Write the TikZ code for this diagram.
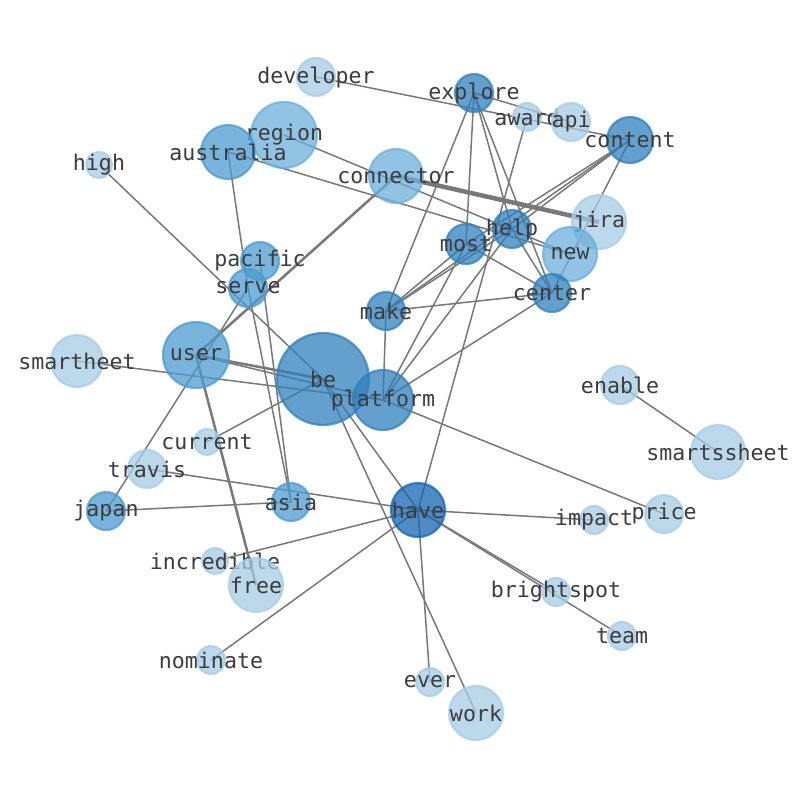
\documentclass[tikz,border=0pt]{standalone}
\usepackage{fontspec}
\setmonofont{DejaVu Sans Mono}
\definecolor{cL}{RGB}{166,204,230}
\definecolor{cA}{RGB}{108,175,219}
\definecolor{cB}{RGB}{75,155,208}
\definecolor{cC}{RGB}{48,128,188}
\definecolor{cD}{RGB}{20,100,178}
\definecolor{edgec}{RGB}{120,120,120}
\definecolor{txt}{RGB}{60,60,60}
\newcommand\vtx[6]{%
  \node[vnode,fill=#5,draw=#5,minimum size=#4*2pt] (#1-c) at (#1) {};
  \node[lbl] (#1-t) at (#1) {#6};
}
\begin{document}
\begin{tikzpicture}[x=1pt,y=-1pt,
  vnode/.style={circle,inner sep=0pt,outer sep=0pt,line width=2.2pt,fill opacity=0.75,draw opacity=0.75},
  lbl/.style={text=txt,font=\ttfamily\fontsize{21.6}{24}\selectfont,inner sep=0pt,anchor=center},
  edge/.style={draw=edgec,line width=1.5pt},
  thick2/.style={draw=edgec,line width=2.5pt},
  thick3/.style={draw=edgec,line width=4.5pt}]
\useasboundingbox (0,0) rectangle (794,790);
% positions
\coordinate (developer) at (316,77);
\coordinate (explore) at (474,93);
\coordinate (award) at (527,117);
\coordinate (api) at (571,122);
\coordinate (content) at (630,140);
\coordinate (region) at (284,135);
\coordinate (australia) at (228,152);
\coordinate (high) at (99,165);
\coordinate (connector) at (396,176);
\coordinate (jira) at (599,222);
\coordinate (help) at (512,229);
\coordinate (most) at (466,244);
\coordinate (new) at (570,254);
\coordinate (pacific) at (260,261);
\coordinate (serve) at (248,288);
\coordinate (center) at (552,293);
\coordinate (make) at (386,311);
\coordinate (smartheet) at (77,361);
\coordinate (user) at (196,355);
\coordinate (be) at (323,379);
\coordinate (platform) at (383,400);
\coordinate (enable) at (620,385);
\coordinate (current) at (207,442);
\coordinate (smartssheet) at (718,452);
\coordinate (travis) at (147,469);
\coordinate (japan) at (106,511);
\coordinate (asia) at (291,502);
\coordinate (have) at (418,510);
\coordinate (impact) at (594,520);
\coordinate (price) at (664,514);
\coordinate (incredible) at (215,561);
\coordinate (free) at (256,585);
\coordinate (brightspot) at (556,592);
\coordinate (team) at (622,636);
\coordinate (nominate) at (211,660);
\coordinate (ever) at (430,682);
\coordinate (work) at (476,713);
% edges
\draw[edge] (developer) -- (content);
\draw[edge] (explore) -- (api);
\draw[edge] (explore) -- (make);
\draw[edge] (explore) -- (most);
\draw[edge] (explore) -- (help);
\draw[edge] (explore) -- (center);
\draw[edge] (have) -- (award);
\draw[edge] (content) -- (make);
\draw[edge] (content) -- (most);
\draw[edge] (content) -- (help);
\draw[edge] (content) -- (center);
\draw[thick3] (connector) -- (jira);
\draw[thick2] (connector) -- (user);
\draw[edge] (region) -- (new);
\draw[edge] (australia) -- (new);
\draw[edge] (australia) -- (serve);
\draw[edge] (pacific) -- (asia);
\draw[edge] (serve) -- (asia);
\draw[edge] (japan) -- (serve);
\draw[edge] (japan) -- (asia);
\draw[edge] (high) -- (be);
\draw[thick2] (user) -- (be);
\draw[edge] (user) -- (platform);
\draw[thick2] (user) -- (free);
\draw[edge] (smartheet) -- (platform);
\draw[edge] (current) -- (be);
\draw[edge] (make) -- (most);
\draw[edge] (make) -- (help);
\draw[edge] (make) -- (center);
\draw[edge] (make) -- (platform);
\draw[edge] (platform) -- (most);
\draw[edge] (platform) -- (help);
\draw[edge] (platform) -- (center);
\draw[edge] (platform) -- (price);
\draw[edge] (most) -- (center);
\draw[edge] (help) -- (center);
\draw[edge] (be) -- (have);
\draw[edge] (be) -- (work);
\draw[edge] (travis) -- (have);
\draw[edge] (incredible) -- (have);
\draw[edge] (nominate) -- (have);
\draw[edge] (have) -- (impact);
\draw[edge] (have) -- (brightspot);
\draw[edge] (have) -- (team);
\draw[edge] (have) -- (ever);
\draw[edge] (enable) -- (smartssheet);
% nodes
\vtx{developer}{316}{77}{19}{cL}{developer}
\vtx{award}{527}{117}{14}{cL}{award}
\vtx{api}{571}{122}{19}{cL}{api}
\vtx{explore}{474}{93}{19}{cC}{explore}
\vtx{content}{630}{140}{23}{cC}{content}
\vtx{region}{284}{135}{33}{cA}{region}
\vtx{australia}{228}{152}{27}{cB}{australia}
\vtx{high}{99}{165}{13}{cL}{high}
\vtx{connector}{396}{176}{27}{cA}{connector}
\vtx{jira}{599}{222}{27}{cL}{jira}
\vtx{new}{570}{254}{27}{cA}{new}
\vtx{help}{512}{229}{19}{cC}{help}
\vtx{most}{466}{244}{20}{cC}{most}
\vtx{pacific}{260}{261}{19}{cB}{pacific}
\vtx{serve}{248}{288}{19}{cB}{serve}
\vtx{center}{552}{293}{19}{cC}{center}
\vtx{make}{386}{311}{19}{cC}{make}
\vtx{smartheet}{77}{361}{26}{cL}{smartheet}
\vtx{user}{196}{355}{33}{cB}{user}
\vtx{be}{323}{379}{46}{cC}{be}
\vtx{platform}{383}{400}{30}{cC}{platform}
\vtx{enable}{620}{385}{19}{cL}{enable}
\vtx{current}{207}{442}{13}{cL}{current}
\vtx{smartssheet}{718}{452}{27}{cL}{smartssheet}
\vtx{travis}{147}{469}{19}{cL}{travis}
\vtx{japan}{106}{511}{19}{cB}{japan}
\vtx{asia}{291}{502}{19}{cB}{asia}
\vtx{have}{418}{510}{27}{cD}{have}
\vtx{impact}{594}{520}{14}{cL}{impact}
\vtx{price}{664}{514}{19}{cL}{price}
\vtx{incredible}{215}{561}{13}{cL}{incredible}
\vtx{free}{256}{585}{27}{cL}{free}
\vtx{brightspot}{556}{592}{14}{cL}{brightspot}
\vtx{team}{622}{636}{14}{cL}{team}
\vtx{nominate}{211}{660}{14}{cL}{nominate}
\vtx{ever}{430}{682}{14}{cL}{ever}
\vtx{work}{476}{713}{27}{cL}{work}
\end{tikzpicture}
\end{document}
